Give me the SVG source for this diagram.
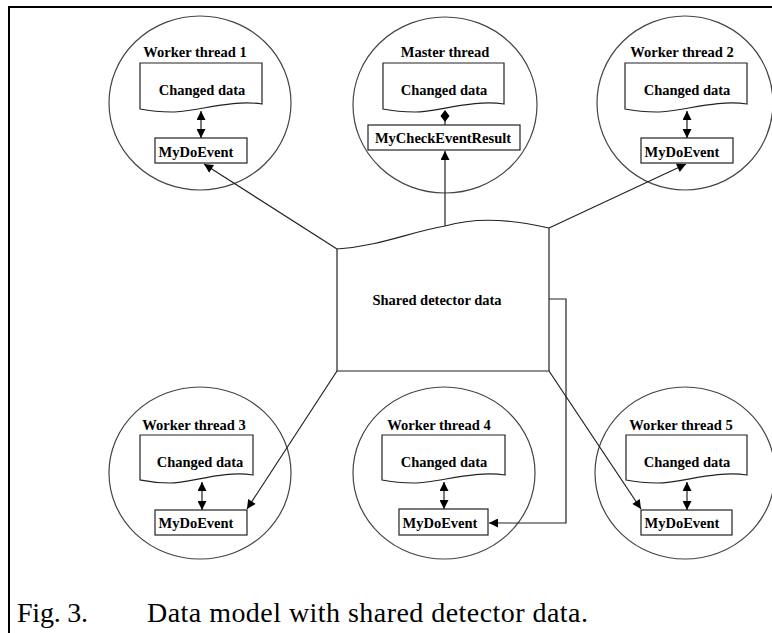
<svg xmlns="http://www.w3.org/2000/svg" width="772" height="633" viewBox="0 0 772 633">
<defs>
<style>
.ring{fill:none;stroke:#444;stroke-width:1.2}
.box{fill:#fff;stroke:#222;stroke-width:1.2}
.ln{fill:none;stroke:#222;stroke-width:1.2}
.t{font-family:"Liberation Serif","Times New Roman",serif;font-weight:bold;font-size:14.5px;fill:#000;text-anchor:middle}
.cap{font-family:"Liberation Serif","Times New Roman",serif;font-size:28px;fill:#000}
</style>
<marker id="ah" viewBox="0 0 10 10" refX="10" refY="5" markerWidth="10" markerHeight="9" markerUnits="userSpaceOnUse" orient="auto-start-reverse">
<path d="M0,0 L10,5 L0,10 Z" fill="#000"/>
</marker>
</defs>
<rect width="772" height="633" fill="#fff"/>
<path d="M9,633 V7 H772" fill="none" stroke="#000" stroke-width="2"/>

<g id="shared">
<path class="box" d="M337,249 C380,246 410,232 445,226 C470,219 500,217 549,228 V371 H337 Z"/>
<text class="t" x="437" y="305">Shared detector data</text>
</g>

<g id="worker1">
<ellipse class="ring" cx="200" cy="103" rx="91" ry="87"/>
<text class="t" x="195" y="57">Worker thread 1</text>
<path class="box" d="M140,63 H262 V104 C232,99 195,112 172,112 C155,112 145,110 140,109 Z"/>
<text class="t" x="202" y="95">Changed data</text>
<rect class="box" x="155" y="138" width="92" height="25"/>
<text class="t" x="196" y="157">MyDoEvent</text>
<line class="ln" x1="201" y1="111" x2="201" y2="138" marker-start="url(#ah)" marker-end="url(#ah)"/>
</g>

<g id="master">
<ellipse class="ring" cx="445" cy="105" rx="92" ry="88"/>
<text class="t" x="445" y="57">Master thread</text>
<path class="box" d="M383,63 H504 V104 C474,99 437,112 415,112 C398,112 388,110 383,109 Z"/>
<text class="t" x="444" y="95">Changed data</text>
<rect class="box" x="368" y="125" width="152" height="25"/>
<text class="t" x="443" y="143">MyCheckEventResult</text>
<line class="ln" x1="445" y1="125" x2="445" y2="121"/>
<path d="M445,110 L449.5,116 L445,122 L440.5,116 Z" fill="#000"/>
</g>

<g id="worker2">
<ellipse class="ring" cx="685" cy="103" rx="88" ry="87"/>
<text class="t" x="682" y="57">Worker thread 2</text>
<path class="box" d="M625,63 H747 V104 C717,99 680,112 657,112 C640,112 630,110 625,109 Z"/>
<text class="t" x="687" y="95">Changed data</text>
<rect class="box" x="641" y="138" width="92" height="25"/>
<text class="t" x="682" y="157">MyDoEvent</text>
<line class="ln" x1="687" y1="111" x2="687" y2="138" marker-start="url(#ah)" marker-end="url(#ah)"/>
</g>

<g id="worker3">
<ellipse class="ring" cx="200" cy="473" rx="91" ry="86"/>
<text class="t" x="194" y="430">Worker thread 3</text>
<path class="box" d="M140,435 H253 V475 C225,470 190,483 170,483 C154,483 145,481 140,480 Z"/>
<text class="t" x="200" y="467">Changed data</text>
<rect class="box" x="155" y="510" width="92" height="25"/>
<text class="t" x="196" y="528">MyDoEvent</text>
<line class="ln" x1="202" y1="482" x2="202" y2="510" marker-start="url(#ah)" marker-end="url(#ah)"/>
</g>

<g id="worker4">
<ellipse class="ring" cx="444" cy="473" rx="91" ry="86"/>
<text class="t" x="439" y="430">Worker thread 4</text>
<path class="box" d="M382,435 H505 V475 C475,470 437,483 414,483 C397,483 387,481 382,480 Z"/>
<text class="t" x="444" y="467">Changed data</text>
<rect class="box" x="399" y="509" width="89" height="26"/>
<text class="t" x="440" y="528">MyDoEvent</text>
<line class="ln" x1="444" y1="482" x2="444" y2="509" marker-start="url(#ah)" marker-end="url(#ah)"/>
</g>

<g id="worker5">
<ellipse class="ring" cx="685" cy="473" rx="90" ry="86"/>
<text class="t" x="681" y="430">Worker thread 5</text>
<path class="box" d="M626,435 H747 V475 C717,470 680,483 658,483 C641,483 631,481 626,480 Z"/>
<text class="t" x="687" y="467">Changed data</text>
<rect class="box" x="641" y="510" width="91" height="25"/>
<text class="t" x="682" y="528">MyDoEvent</text>
<line class="ln" x1="687" y1="482" x2="687" y2="510" marker-start="url(#ah)" marker-end="url(#ah)"/>
</g>

<g id="connectors">
<line class="ln" x1="337" y1="249" x2="204" y2="164" marker-end="url(#ah)"/>
<line class="ln" x1="445" y1="226" x2="445" y2="151" marker-end="url(#ah)"/>
<line class="ln" x1="549" y1="228" x2="686" y2="164" marker-end="url(#ah)"/>
<line class="ln" x1="337" y1="371" x2="247" y2="509" marker-end="url(#ah)"/>
<line class="ln" x1="549" y1="371" x2="641" y2="509" marker-end="url(#ah)"/>
<polyline class="ln" points="549,299 566,299 566,523 489,523" marker-end="url(#ah)"/>
</g>

<g id="caption">
<text class="cap" x="17" y="622" textLength="71" lengthAdjust="spacing">Fig. 3.</text>
<text class="cap" x="147" y="622" textLength="441" lengthAdjust="spacing">Data model with shared detector data.</text>
</g>
</svg>
